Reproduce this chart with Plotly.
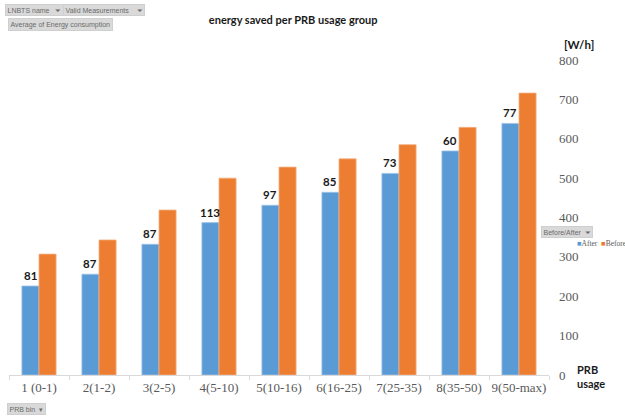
import plotly.graph_objects as go

# PRB usage bins and average energy consumption per bin [W/h]
categories = ["1 (0-1)", "2(1-2)", "3(2-5)", "4(5-10)", "5(10-16)",
              "6(16-25)", "7(25-35)", "8(35-50)", "9(50-max)"]
after = [226, 256, 332, 387, 431, 464, 512, 569, 639]
before = [307, 343, 419, 500, 528, 549, 585, 629, 716]
y_ticks = [0, 100, 200, 300, 400, 500, 600, 700, 800]

saved = [b - a for a, b in zip(after, before)]

BLUE = "#5B9BD5"
ORANGE = "#ED7D31"
BARGAP = 0.43

fig = go.Figure()
fig.add_trace(go.Bar(
    x=categories, y=after, name="After",
    marker=dict(color=BLUE, line=dict(color="#9DC3E6", width=0.8)),
    cliponaxis=False,
))
fig.add_trace(go.Bar(
    x=categories, y=before, name="Before",
    marker=dict(color=ORANGE, line=dict(color="#F4B183", width=0.8)),
    cliponaxis=False,
))

# Energy saved (Before - After) written above each "After" bar
offset = (1 - BARGAP) / 4
for i, (a, s) in enumerate(zip(after, saved)):
    fig.add_annotation(
        x=i - offset, y=a, xref="x", yref="y", text=f"<b>{s}</b>",
        showarrow=False, xanchor="center", yanchor="bottom", yshift=2,
        font=dict(family="Lato", size=11.5, color="#1a1a1a"),
    )

fig.update_layout(
    width=625, height=416,
    margin=dict(l=9, r=76, t=60, b=41),
    paper_bgcolor="white", plot_bgcolor="white",
    barmode="group", bargap=BARGAP, bargroupgap=0,
    showlegend=False,
    title=dict(
        text="<b>energy saved per PRB usage group</b>",
        x=0.469, xanchor="center", y=0.952, yanchor="middle",
        font=dict(family="Lato", size=11, color="#1a1a1a"),
    ),
    xaxis=dict(
        showgrid=False, showline=True, linecolor="#d9d9d9", linewidth=1,
        ticks="outside", tickcolor="#d9d9d9", ticklen=4,
        tickson="boundaries", tickangle=0,
        tickfont=dict(family="Liberation Serif", size=13, color="#595959"),
        fixedrange=True,
    ),
    yaxis=dict(
        side="right", range=[0, 800], tickvals=y_ticks,
        showgrid=False, showline=False, zeroline=False, ticks="",
        ticklabelstandoff=9,
        tickfont=dict(family="Liberation Serif", size=13, color="#595959"),
        fixedrange=True,
    ),
)

# Axis captions
fig.add_annotation(text="<b>[W/h]</b>", xref="paper", yref="paper",
                   x=1.024, y=1.05, xanchor="left", yanchor="middle",
                   showarrow=False,
                   font=dict(family="Lato", size=11.5, color="#1a1a1a"))
fig.add_annotation(text="<b>PRB<br>usage</b>", xref="paper", yref="paper",
                   x=1.048, y=-0.005, xanchor="left", yanchor="middle",
                   align="left", showarrow=False,
                   font=dict(family="Lato", size=11, color="#1a1a1a"))

# Series key beside the value axis
fig.add_annotation(
    text=(f"<span style='color:{BLUE}'>■</span>After  "
          f"<span style='color:{ORANGE}'>■</span>Before"),
    xref="paper", yref="paper", x=1.048, y=0.419,
    xanchor="left", yanchor="middle", showarrow=False,
    font=dict(family="Liberation Serif", size=7.5, color="#595959"),
)

# Pivot field buttons
button = dict(xref="paper", yref="paper", showarrow=False,
              bgcolor="#d9d9d9", bordercolor="#cfcfcf", borderwidth=1,
              borderpad=1.5,
              font=dict(family="Liberation Sans", size=7, color="#6b6b6b"))
fig.add_annotation(text="LNBTS name   ⏷", x=-0.007, y=1.158,
                   xanchor="left", yanchor="middle", **button)
fig.add_annotation(text="Valid Measurements    ⏷", x=0.1, y=1.158,
                   xanchor="left", yanchor="middle", **button)
fig.add_annotation(text="Average of Energy consumption", x=-0.002, y=1.114,
                   xanchor="left", yanchor="middle", **button)
fig.add_annotation(text="Before/After  ⏷", x=0.985, y=0.454,
                   xanchor="left", yanchor="middle", **button)
fig.add_annotation(text="PRB bin  ▾", x=-0.003, y=-0.108,
                   xanchor="left", yanchor="middle", **button)

fig.write_html("out.html")
